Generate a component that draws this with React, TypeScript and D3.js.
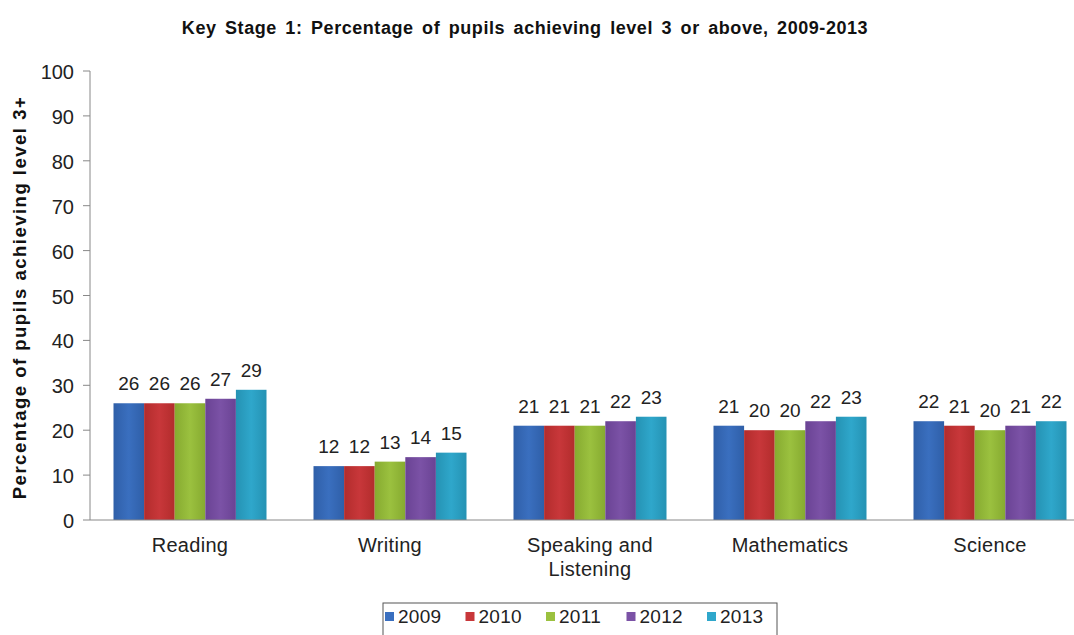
import React from "react";
import * as d3 from "d3";

const categories = ["Reading", "Writing", "Speaking and Listening", "Mathematics", "Science"];
const years = ["2009", "2010", "2011", "2012", "2013"];
const values2009 = [26, 12, 21, 21, 22];
const values2010 = [26, 12, 21, 20, 21];
const values2011 = [26, 13, 21, 20, 20];
const values2012 = [27, 14, 22, 22, 21];
const values2013 = [29, 15, 23, 23, 22];
const series = [values2009, values2010, values2011, values2012, values2013];
const yTicks = [0, 10, 20, 30, 40, 50, 60, 70, 80, 90, 100];
const colors = ["#3a6fbf", "#c8373a", "#9bc13f", "#7b52a6", "#2fa7cb"];
const darker = ["#2f5fa8", "#b22c2c", "#86aa30", "#6a4394", "#2592b3"];

const W = 1074;
const H = 635;
const FONT = "Liberation Sans, Arial, sans-serif";

export default function App() {
  const y = d3.scaleLinear().domain([0, 100]).range([520, 71]);
  const x = d3.scaleBand<string>().domain(categories).range([90, 1090]).paddingInner(0.235).paddingOuter(0.1175);
  const xi = d3.scaleBand<string>().domain(years).range([0, x.bandwidth()]);

  const labelLines = (c: string) => (c === "Speaking and Listening" ? ["Speaking and", "Listening"] : [c]);

  return (
    <svg width={W} height={H} style={{ position: "absolute", left: 0, top: 0, background: "#fff" }} fontFamily={FONT}>
      <defs>
        {colors.map((c, i) => (
          <linearGradient key={i} id={`g${i}`} x1="0" y1="0" x2="1" y2="0">
            <stop offset="0" stopColor={darker[i]} />
            <stop offset="0.5" stopColor={c} />
            <stop offset="1" stopColor={darker[i]} />
          </linearGradient>
        ))}
      </defs>
      <text x={525} y={34} textAnchor="middle" fontSize={18} fontWeight="bold" letterSpacing={0.55} wordSpacing={3} fill="#111">
        Key Stage 1: Percentage of pupils achieving level 3 or above, 2009-2013
      </text>
      <text
        transform={`translate(26,${y(50) + 2}) rotate(-90)`}
        textAnchor="middle"
        fontSize={18.5}
        fontWeight="bold"
        letterSpacing={1.5}
        fill="#111"
      >
        Percentage of pupils achieving level 3+
      </text>
      {yTicks.map((t) => (
        <g key={t}>
          <line x1={83} x2={90} y1={y(t)} y2={y(t)} stroke="#888" />
          <text x={74} y={y(t) + 8} textAnchor="end" fontSize={20} fill="#222">
            {t}
          </text>
        </g>
      ))}
      <line x1={90} x2={90} y1={y(100)} y2={y(0)} stroke="#888" />
      {categories.map((c, ci) => (
        <g key={c}>
          {years.map((yr, si) => {
            const v = series[si][ci];
            const bx = (x(c) as number) + (xi(yr) as number);
            return (
              <g key={yr}>
                <rect x={bx} y={y(v)} width={xi.bandwidth()} height={y(0) - y(v)} fill={`url(#g${si})`} />
                <text x={bx + xi.bandwidth() / 2} y={y(v) - 13} textAnchor="middle" fontSize={19} fill="#222">
                  {v}
                </text>
              </g>
            );
          })}
          {labelLines(c).map((l, li) => (
            <text
              key={li}
              x={(x(c) as number) + x.bandwidth() / 2}
              y={552 + li * 24}
              textAnchor="middle"
              fontSize={20}
              letterSpacing={0.3}
              fill="#222"
            >
              {l}
            </text>
          ))}
        </g>
      ))}
      <line x1={90} x2={W} y1={y(0)} y2={y(0)} stroke="#888" />
      <rect x={383} y={603} width={394} height={40} fill="#fff" stroke="#555" />
      {years.map((yr, i) => {
        const lx = 385 + i * 80.5;
        return (
          <g key={yr}>
            <rect x={lx} y={612} width={9} height={9} fill={colors[i]} />
            <text x={lx + 13} y={623} fontSize={19} letterSpacing={0.3} fill="#222">
              {yr}
            </text>
          </g>
        );
      })}
    </svg>
  );
}
